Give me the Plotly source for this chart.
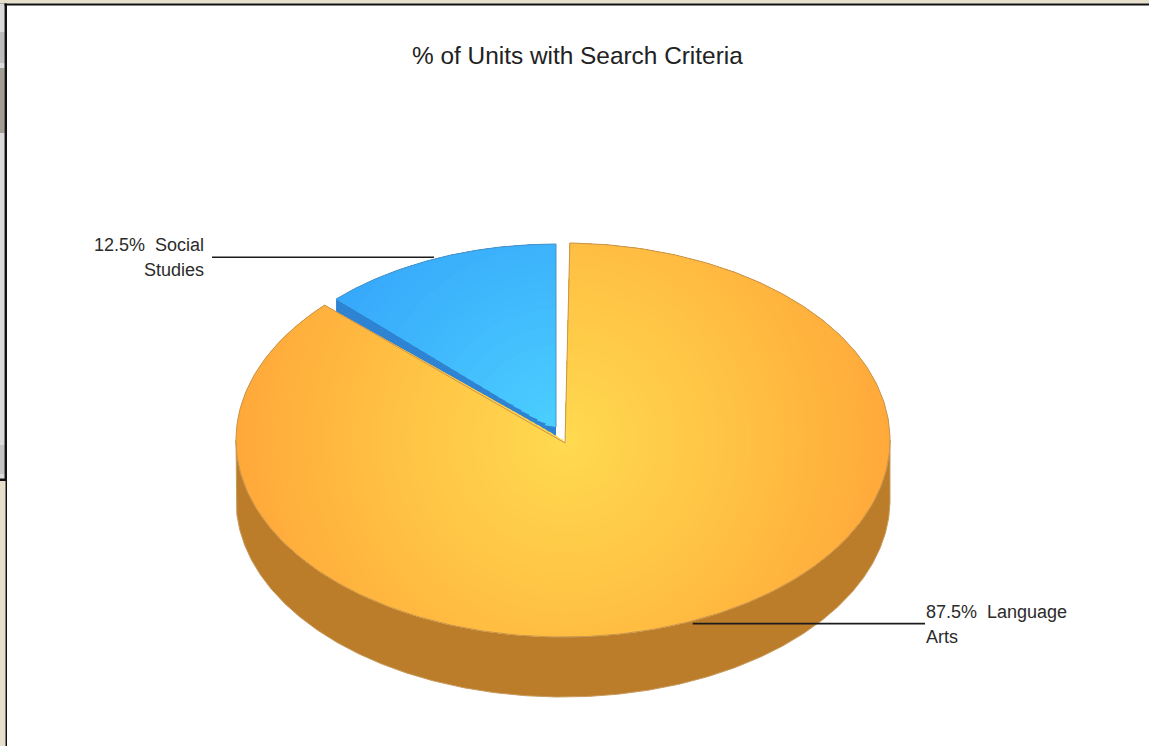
import numpy as np
import plotly.graph_objects as go

# Chart content
title = "% of Units with Search Criteria"
categories = ["Language Arts", "Social Studies"]
shares = [87.5, 12.5]
label_lines = [["87.5%\u00a0\u00a0Language", "Arts"], ["12.5%\u00a0\u00a0Social", "Studies"]]

# Page size
W, H = 1149, 746

# Pie geometry (projected ellipse, in page pixels)
ORANGE = dict(cx=563, cy=440, rx=327, ry=197, apex=(565, 443))
BLUE = dict(cx=556, cy=432, rx=311, ry=188, apex=(556, 427))
DEPTH = 60
START_DEG = 1.2      # where the large slice begins, clockwise from 12 o'clock
PAD_DEG = 3.0        # angular gap trimmed off the large slice

ORANGE_STOPS = [(0.0, (255, 218, 80)), (0.5, (255, 195, 68)), (1.0, (255, 168, 58))]
BLUE_STOPS = [(0.0, (76, 208, 255)), (1.0, (54, 166, 250))]


def blend(stops, t):
    for (a, ca), (b, cb) in zip(stops, stops[1:]):
        if t <= b:
            k = (t - a) / (b - a)
            return "rgb(%d,%d,%d)" % tuple(round(x + (y - x) * k) for x, y in zip(ca, cb))
    return "rgb(%d,%d,%d)" % stops[-1][1]


def rim(g, a0, a1, n=361):
    """Points along the slice's outer edge; angles in degrees clockwise from the top."""
    t = np.radians(np.linspace(a0, a1, n))
    return g["cx"] + g["rx"] * np.sin(t), g["cy"] - g["ry"] * np.cos(t)


def sector(g, a0, a1):
    x, y = rim(g, a0, a1)
    ax, ay = g["apex"]
    return np.r_[ax, x, ax], np.r_[ay, y, ay]


def add_poly(fig, x, y, fill, line=None, width=0):
    fig.add_trace(go.Scatter(
        x=x, y=y, mode="lines", fill="toself", fillcolor=fill,
        line=dict(color=line or fill, width=width), hoverinfo="skip", showlegend=False,
    ))


def add_radial(fig, g, a0, a1, stops, centre, reach, steps, edge, skip_first_edge=False):
    """Circular gradient inside a slice, painted as shrinking star-shaped polygons."""
    x, y = sector(g, a0, a1)
    cx, cy = centre
    add_poly(fig, x, y, blend(stops, 1.0))
    for R in np.linspace(reach, 4, steps):
        d = np.hypot(x - cx, y - cy)
        k = np.minimum(1.0, R / np.maximum(d, 1e-6))
        add_poly(fig, cx + (x - cx) * k, cy + (y - cy) * k, blend(stops, R / reach))
    # Thin outline on top of the shading
    first = 1 if skip_first_edge else 0
    fig.add_trace(go.Scatter(x=x[first:], y=y[first:], mode="lines", line=dict(color=edge, width=1),
                             hoverinfo="skip", showlegend=False))


orange_sweep = shares[0] * 3.6 - PAD_DEG
blue_sweep = shares[1] * 3.6
orange_a0, orange_a1 = START_DEG, START_DEG + orange_sweep
blue_a0, blue_a1 = -blue_sweep, 0.0

fig = go.Figure()

# Blue slice wall, partly hidden by the large slice painted after it
bx, by = rim(BLUE, blue_a0, blue_a0, 1)
ax, ay = BLUE["apex"]
add_poly(fig, [bx[0], ax, ax, bx[0], bx[0]], [by[0], ay, ay + DEPTH, by[0] + DEPTH, by[0]], "#2E84D2")

# Orange outer wall: only the front half of the rim is visible
wx, wy = rim(ORANGE, 90, 270)
add_poly(fig, np.r_[wx, wx[::-1], wx[0]], np.r_[wy, wy[::-1] + DEPTH, wy[0]], "#BC7D2A", "#C79A5E", 1)

# Slice tops with their radial shading
add_radial(fig, ORANGE, orange_a0, orange_a1, ORANGE_STOPS, (565, 440), 335, 50, "#C8954F")
add_radial(fig, BLUE, blue_a0, blue_a1, BLUE_STOPS, (556, 432), 270, 30, "#4A93C6", skip_first_edge=True)

# Leader lines start from each slice's mid-angle
mid_o = (orange_a0 + orange_a1) / 2
mid_b = (blue_a0 + blue_a1) / 2
mx, my = rim(ORANGE, mid_o, mid_o, 1)
nx, ny = rim(BLUE, mid_b, mid_b, 1)
leader = dict(color="#1c1c1c", width=1.6)
fig.add_trace(go.Scatter(x=[mx[0] + 3, 925], y=[my[0] + 2, my[0] + 2], mode="lines", line=leader,
                         hoverinfo="skip", showlegend=False))
fig.add_trace(go.Scatter(x=[nx[0] - 3, 212], y=[ny[0] - 1, ny[0] - 1], mode="lines", line=leader,
                         hoverinfo="skip", showlegend=False))

font = dict(family="Liberation Sans, Arial, sans-serif", color="#2b2b2b", size=18)
annotations = [
    dict(x=577.5, y=55, text=title, font=dict(family=font["family"], color="#222222", size=24.4)),
    dict(x=925, y=612, text=label_lines[0][0], xanchor="left", font=font),
    dict(x=925, y=637, text=label_lines[0][1], xanchor="left", font=font),
    dict(x=205, y=245, text=label_lines[1][0], xanchor="right", font=font),
    dict(x=205, y=270, text=label_lines[1][1], xanchor="right", font=font),
]
for a in annotations:
    a.update(xref="x", yref="y", showarrow=False)
    a.setdefault("xanchor", "center")
    a.setdefault("yanchor", "middle")
    a["borderpad"] = 0

# Surrounding page chrome
BEIGE, BLACK, GREY = "#E5DFCB", "#111111", "#DADADA"
chrome = [
    (0, 0, W, 3.5, BEIGE),
    (0, 3.5, W, 5.5, BLACK),
    (0, 3.5, 4.5, 480, GREY),
    (0, 32, 4.5, 63, "#BDBDBD"),
    (0, 68, 4.5, 133, "#A29E96"),
    (0, 445, 4.5, 474, "#C4C4C4"),
    (4.5, 3.5, 7, 480, BLACK),
    (0, 478.5, 7, 481, BLACK),
    (0, 481, 5.5, H, BEIGE),
    (5.5, 481, 7, H, BLACK),
]
shapes = [dict(type="rect", xref="x", yref="y", x0=a, y0=b, x1=c, y1=d, fillcolor=col,
               line=dict(width=0), layer="above") for a, b, c, d, col in chrome]

fig.update_layout(
    width=W, height=H, margin=dict(l=0, r=0, t=0, b=0, pad=0),
    paper_bgcolor="white", plot_bgcolor="white",
    xaxis=dict(range=[0, W], visible=False, fixedrange=True),
    yaxis=dict(range=[H, 0], visible=False, fixedrange=True),
    annotations=annotations, shapes=shapes, showlegend=False,
)
fig.write_html("out.html", config=dict(displayModeBar=False))
